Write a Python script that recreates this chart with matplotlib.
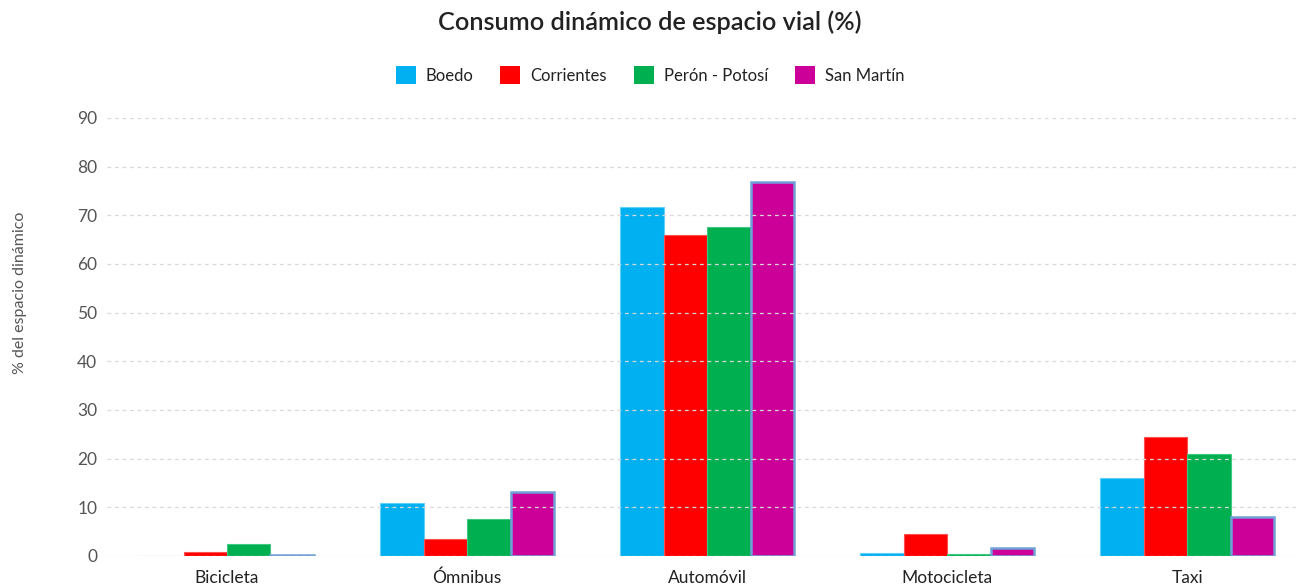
import matplotlib
matplotlib.use("Agg")
import matplotlib.pyplot as plt
from matplotlib.patches import Patch
import numpy as np

categories = ["Bicicleta", "Ómnibus", "Automóvil", "Motocicleta", "Taxi"]
series_names = ["Boedo", "Corrientes", "Perón - Potosí", "San Martín"]
boedo = [0.05, 10.9, 71.7, 0.6, 16.1]
corrientes = [0.9, 3.5, 66.0, 4.5, 24.5]
peron_potosi = [2.5, 7.6, 67.7, 0.5, 21.0]
san_martin = [0.2, 13.1, 76.8, 1.6, 8.1]
y_ticks = [0, 10, 20, 30, 40, 50, 60, 70, 80, 90]

series_values = [boedo, corrientes, peron_potosi, san_martin]
colors = ["#00b0f0", "#ff0000", "#00b050", "#cc0099"]
edge_colors = ["#5fd0fa", "#ff5050", "#40c880", "#6fa0d8"]
edge_widths = [0.8, 0.8, 0.8, 1.8]

plt.rcParams["font.family"] = ["Lato", "DejaVu Sans"]

fig = plt.figure(figsize=(13, 5.85), dpi=100)
ax = fig.add_axes([107 / 1300, 29 / 585, 1 - 107 / 1300, (556 - 118) / 585])

x = np.arange(len(categories))
bar_w = 0.181
offsets = (np.arange(len(series_names)) - 1.5) * bar_w
for i, (name, vals) in enumerate(zip(series_names, series_values)):
    ax.bar(x + offsets[i], vals, width=bar_w, color=colors[i],
           edgecolor=edge_colors[i], linewidth=edge_widths[i], zorder=2)

ax.set_xlim(-0.5, 4.47)
ax.set_ylim(0, 90)
ax.set_yticks(y_ticks)
ax.set_xticks(x)
ax.set_xticklabels(categories, fontsize=12.5, color="#222222")
ax.tick_params(axis="x", length=0, pad=10)
ax.tick_params(axis="y", length=0, pad=7, labelsize=12.5, labelcolor="#555555")
ax.yaxis.grid(True, linestyle=(0, (3, 3)), color="#d8d8d8", linewidth=0.9, zorder=3)
ax.set_axisbelow(False)
for s in ax.spines.values():
    s.set_visible(False)

fig.text(20 / 1300, 0.5, "% del espacio dinámico", rotation=90, fontsize=11.5,
         color="#555555", ha="center", va="center")

fig.suptitle("Consumo dinámico de espacio vial (%)", fontsize=18.2, color="#222222",
             y=0.982, fontweight="semibold")

handles = [Patch(facecolor=c, edgecolor="none") for c in colors]
fig.legend(handles, series_names, loc="center", bbox_to_anchor=(0.5, 1 - 75 / 585),
           ncol=4, frameon=False, fontsize=12, handlelength=1.2, handleheight=1.2,
           handletextpad=0.6, columnspacing=1.6, labelcolor="#222222")

fig.savefig("out.png", dpi=100)
